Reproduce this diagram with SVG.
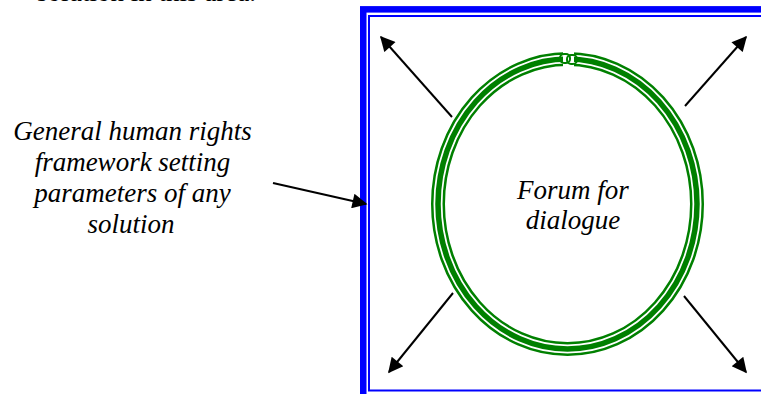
<svg xmlns="http://www.w3.org/2000/svg" width="761" height="394" viewBox="0 0 761 394">
  <style>
    .lbl { font-family: "Liberation Serif", "Times New Roman", serif; font-style: italic; font-size: 27px; fill: #000; }
    .top { font-family: "Liberation Serif", "Times New Roman", serif; font-size: 27px; fill: #000; }
    .ring { fill: none; stroke: #008000; }
    .frame { fill: none; stroke: #0000FF; }
    .conn { stroke: #000; stroke-width: 2; fill: none; marker-end: url(#ah); }
  </style>
  <defs>
    <marker id="ah" viewBox="0 0 10 10" refX="9" refY="5" markerUnits="userSpaceOnUse" markerWidth="17" markerHeight="15" orient="auto">
      <path d="M0,0 L10,5 L0,10 Z" fill="#000"/>
    </marker>
  </defs>
  <rect width="761" height="394" fill="#fff"/>
  <text class="top" x="256" y="1" text-anchor="end">solution in this area.</text>

  <g id="frame">
    <rect class="frame" x="363.25" y="9.35" width="420" height="400" stroke-width="6.5"/>
    <rect class="frame" x="369" y="16" width="420" height="374.5" stroke-width="2"/>
  </g>

  <g id="forum">
    <ellipse class="ring" cx="567.5" cy="204" rx="135.25" ry="150.75" stroke-width="2.5"/>
    <ellipse class="ring" cx="567.5" cy="204" rx="129.5" ry="145" stroke-width="5.5"/>
    <ellipse class="ring" cx="567.5" cy="204" rx="123.75" ry="139.25" stroke-width="2.5"/>
    <rect x="563" y="50" width="11" height="18" fill="#fff"/>
    <rect x="560" y="54" width="10" height="9" rx="4" fill="none" stroke="#008000" stroke-width="2"/>
    <rect x="567" y="55" width="10" height="9" rx="4" fill="none" stroke="#008000" stroke-width="2"/>
    <text class="lbl" x="573" y="199" text-anchor="middle">Forum for</text>
    <text class="lbl" x="573" y="229" text-anchor="middle">dialogue</text>
  </g>

  <g id="framework-label">
    <text class="lbl" x="132.5" y="140" text-anchor="middle">General human rights</text>
    <text class="lbl" x="132.5" y="171" text-anchor="middle">framework setting</text>
    <text class="lbl" x="132.5" y="202" text-anchor="middle">parameters of any</text>
    <text class="lbl" x="131" y="233" text-anchor="middle">solution</text>
  </g>

  <g id="connectors">
    <line class="conn" x1="273" y1="183" x2="366" y2="204"/>
    <line class="conn" x1="452" y1="117" x2="381" y2="37"/>
    <line class="conn" x1="685" y1="106" x2="746" y2="37"/>
    <line class="conn" x1="453" y1="293" x2="389" y2="372"/>
    <line class="conn" x1="684" y1="296" x2="746" y2="372"/>
  </g>
</svg>
